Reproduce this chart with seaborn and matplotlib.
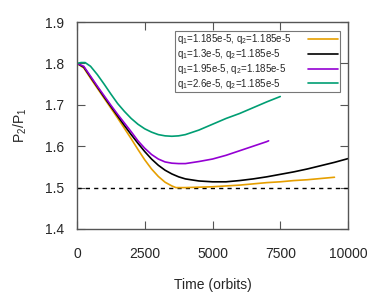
import numpy as np
import pandas as pd
import seaborn as sns
import matplotlib.pyplot as plt
from matplotlib.lines import Line2D

# values
t_a = [0, 250, 500, 750, 1000, 1250, 1500, 1750, 2000, 2250, 2500, 2750, 3000, 3250, 3500, 3650,
       4000, 4500, 5000, 5500, 6000, 6500, 7000, 7500, 8000, 8500, 9000, 9500]
r_a = [1.800, 1.789, 1.764, 1.740, 1.716, 1.692, 1.668, 1.643, 1.618, 1.592, 1.567, 1.545, 1.527, 1.513, 1.504, 1.500,
       1.500, 1.501, 1.502, 1.504, 1.506, 1.509, 1.512, 1.514, 1.517, 1.519, 1.522, 1.525]

t_b = [0, 250, 500, 750, 1000, 1250, 1500, 1750, 2000, 2250, 2500, 2750, 3000, 3250, 3500, 3750,
       4000, 4500, 5000, 5500, 6000, 6500, 7000, 7500, 8000, 8500, 9000, 9500, 10000]
r_b = [1.800, 1.791, 1.767, 1.743, 1.719, 1.696, 1.673, 1.650, 1.628, 1.607, 1.587, 1.569, 1.554, 1.542, 1.533, 1.526,
       1.521, 1.516, 1.514, 1.514, 1.517, 1.521, 1.526, 1.532, 1.538, 1.545, 1.553, 1.561, 1.570]

t_c = [0, 250, 500, 750, 1000, 1250, 1500, 1750, 2000, 2250, 2500, 2750, 3000, 3250, 3500, 3750,
       4000, 4500, 5000, 5500, 6000, 6500, 7000, 7070]
r_c = [1.800, 1.793, 1.769, 1.745, 1.722, 1.699, 1.677, 1.656, 1.635, 1.613, 1.595, 1.580, 1.569, 1.562, 1.559, 1.558,
       1.558, 1.563, 1.569, 1.578, 1.589, 1.600, 1.611, 1.613]

t_d = [0, 150, 300, 500, 750, 1000, 1250, 1500, 1750, 2000, 2250, 2500, 2750, 3000, 3250, 3500, 3750,
       4000, 4500, 5000, 5500, 6000, 6500, 7000, 7500]
r_d = [1.800, 1.802, 1.802, 1.793, 1.773, 1.750, 1.726, 1.703, 1.684, 1.667, 1.653, 1.642, 1.634, 1.628, 1.625, 1.624, 1.625,
       1.628, 1.639, 1.653, 1.667, 1.679, 1.693, 1.707, 1.720]

labels = ['q$_1$=1.185e-5, q$_2$=1.185e-5',
          'q$_1$=1.3e-5, q$_2$=1.185e-5',
          'q$_1$=1.95e-5, q$_2$=1.185e-5',
          'q$_1$=2.6e-5, q$_2$=1.185e-5']
colors = ['#E69F00', '#000000', '#9400D3', '#009E73']

xticks = [0, 2500, 5000, 7500, 10000]
yticks = [1.4, 1.5, 1.6, 1.7, 1.8, 1.9]

frames = []
for t, r, lab in zip([t_a, t_b, t_c, t_d], [r_a, r_b, r_c, r_d], labels):
    frames.append(pd.DataFrame({'t': t, 'ratio': r, 'run': lab}))
df = pd.concat(frames, ignore_index=True)

sns.set_style('ticks')
plt.rcParams['font.family'] = ['Liberation Sans', 'DejaVu Sans']
plt.rcParams['mathtext.fontset'] = 'custom'
plt.rcParams['mathtext.rm'] = 'Liberation Sans'
plt.rcParams['mathtext.it'] = 'Liberation Sans'

fig = plt.figure(figsize=(3.74, 2.99), dpi=100)
ax = fig.add_axes([77 / 374, 1 - 229 / 299, 271 / 374, 207 / 299])

ax.axhline(1.5, color='black', lw=1, ls=(0, (3, 3)), zorder=1)
sns.lineplot(data=df, x='t', y='ratio', hue='run', hue_order=labels, palette=colors,
             estimator=None, sort=False, linewidth=1.2, legend=False, ax=ax)

ax.set_xlim(0, 10000)
ax.set_ylim(1.4, 1.9)
ax.set_xticks(xticks)
ax.set_yticks(yticks)
ax.set_xticklabels([str(v) for v in xticks])
ax.set_yticklabels([f'{v:.1f}' for v in yticks])
ax.tick_params(direction='in', top=True, right=True, length=6, width=0.8,
               color='#555555', labelsize=10)
ax.tick_params(axis='x', pad=13)
ax.tick_params(axis='y', pad=9)
for s in ax.spines.values():
    s.set_color('#555555')
    s.set_linewidth(1)

ax.set_xlabel('Time (orbits)', fontsize=10, labelpad=12)
ax.set_ylabel('P$_2$/P$_1$', fontsize=10, labelpad=12)

handles = [Line2D([], [], color=c, lw=1.2) for c in colors]
leg = ax.legend(handles, labels, loc='upper right', bbox_to_anchor=(0.97, 0.957),
                borderaxespad=0, fontsize=7, markerfirst=False, handlelength=3.1,
                frameon=True, fancybox=False, borderpad=0.15, labelspacing=0.08,
                handletextpad=1.75)
leg.get_frame().set_edgecolor('#555555')
leg.get_frame().set_linewidth(0.8)

# gnuplot-style key: text flush left, samples flush right
renderer = fig.canvas.get_renderer()
widths = [t.get_window_extent(renderer).width for t in leg.get_texts()]
rows = leg._legend_handle_box.get_children()[0].get_children()
for row, w in zip(rows, widths):
    row.sep += (max(widths) - w) * 72 / fig.dpi

fig.savefig('out.png', dpi=100)
